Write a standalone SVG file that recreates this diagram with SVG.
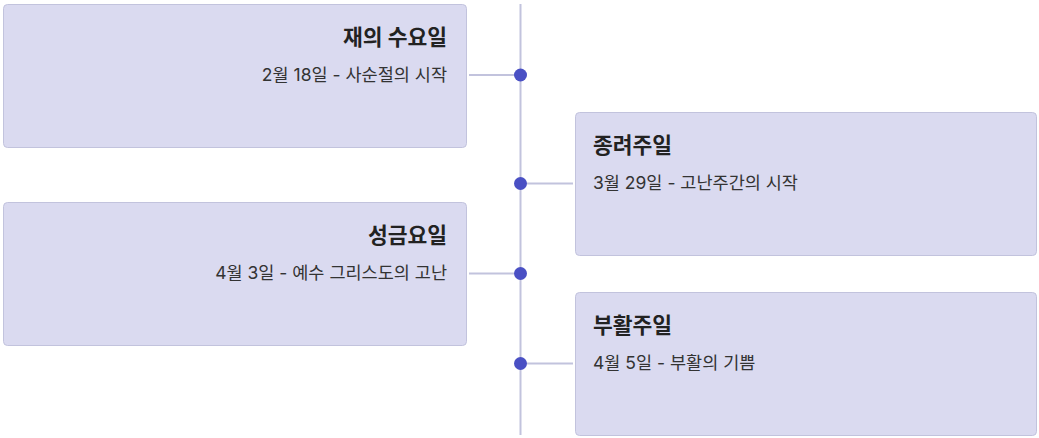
<svg xmlns="http://www.w3.org/2000/svg" width="1039" height="438" viewBox="0 0 1039 438">
<style>
.box{fill:#dadaf0;stroke:#c2c3dd;stroke-width:1}
.title{font-family:Inter,"Noto Sans CJK KR",sans-serif;font-size:21.5px;font-weight:700;fill:#222}
.sub{font-family:Inter,"Noto Sans CJK KR",sans-serif;font-size:17.5px;fill:#333}
.r{text-anchor:end}
.line{stroke:#c2c3dd;stroke-width:2;fill:none}
.dot{fill:#4a50c4}
</style>
<rect width="1039" height="438" fill="#ffffff"/>
<g id="connectors">
<line class="line" x1="520.5" y1="4" x2="520.5" y2="435"/>
<line class="line" x1="469" y1="75" x2="520" y2="75"/>
<line class="line" x1="520" y1="183.5" x2="573" y2="183.5"/>
<line class="line" x1="469" y1="273.5" x2="520" y2="273.5"/>
<line class="line" x1="520" y1="363.5" x2="573" y2="363.5"/>
<circle class="dot" cx="520.5" cy="75" r="6.5"/>
<circle class="dot" cx="520.5" cy="183.5" r="6.5"/>
<circle class="dot" cx="520.5" cy="273.5" r="6.5"/>
<circle class="dot" cx="520.5" cy="363.5" r="6.5"/>
</g>
<g id="node1">
<rect class="box" x="3.5" y="4.5" width="463" height="143" rx="4"/>
<text class="title r" x="447" y="45">재의 수요일</text>
<text class="sub r" x="447" y="81">2월 18일 - 사순절의 시작</text>
</g>
<g id="node2">
<rect class="box" x="575.5" y="112.5" width="461" height="143" rx="4"/>
<text class="title" x="593" y="153">종려주일</text>
<text class="sub" x="593" y="189">3월 29일 - 고난주간의 시작</text>
</g>
<g id="node3">
<rect class="box" x="3.5" y="202.5" width="463" height="143" rx="4"/>
<text class="title r" x="447" y="243">성금요일</text>
<text class="sub r" x="447" y="279">4월 3일 - 예수 그리스도의 고난</text>
</g>
<g id="node4">
<rect class="box" x="575.5" y="292.5" width="461" height="143" rx="4"/>
<text class="title" x="593" y="333">부활주일</text>
<text class="sub" x="593" y="369">4월 5일 - 부활의 기쁨</text>
</g>
</svg>
